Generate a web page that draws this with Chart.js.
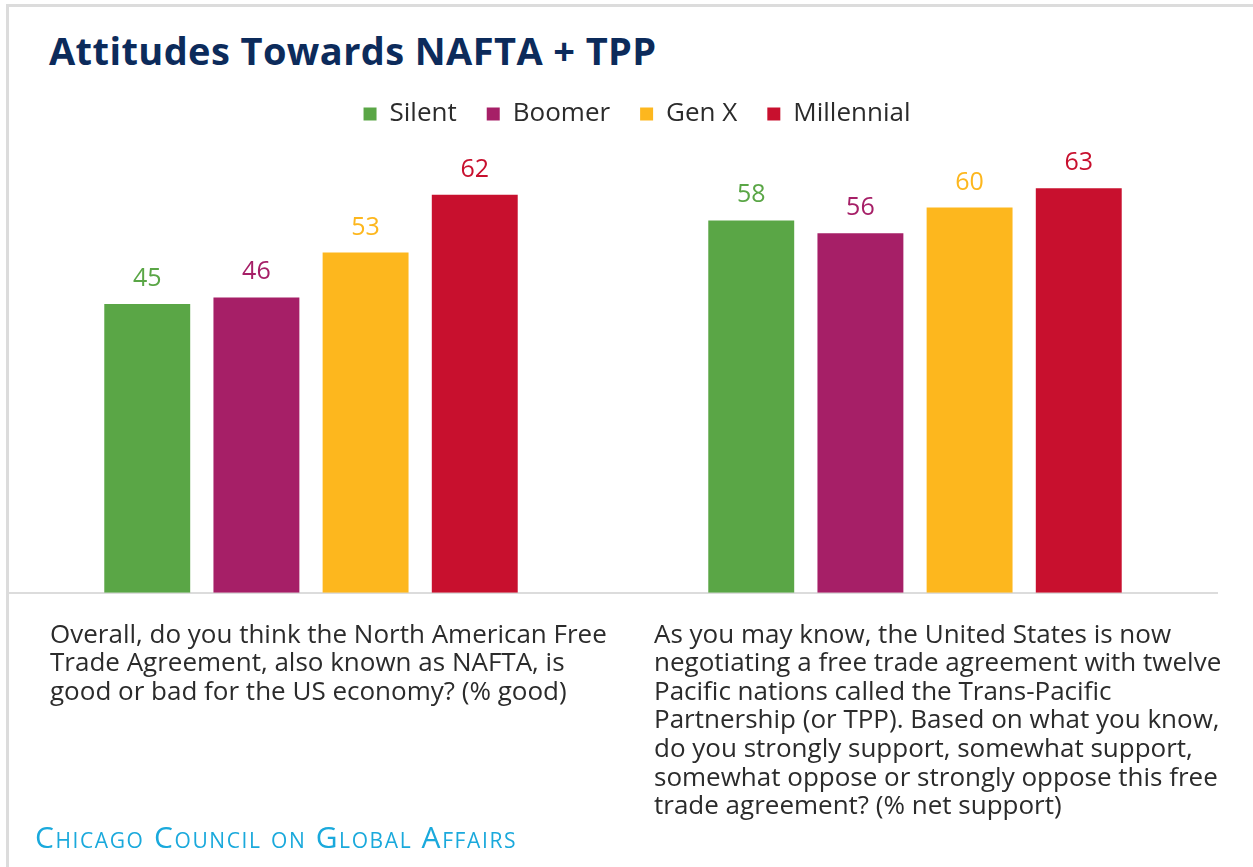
<!DOCTYPE html>
<html>
<head>
<meta charset="utf-8">
<title>Attitudes Towards NAFTA + TPP</title>
<script src="https://cdn.jsdelivr.net/npm/chart.js@4.4.1/dist/chart.umd.min.js"></script>
<style>
  html, body { margin: 0; padding: 0; background: #fff; overflow: hidden; }
  body { width: 1253px; height: 867px; position: relative; font-family: "Open Sans", sans-serif; }
  .frame {
    position: absolute; left: 6px; top: 4px; width: 1260px; height: 900px;
    border-top: 3px solid #dcdcdc; border-left: 3px solid #dcdcdc;
  }
  h1 {
    position: absolute; left: 49px; top: 24px; margin: 0; line-height: 1;
    font: 700 38px "Open Sans", sans-serif; color: #0c2b5b; letter-spacing: 0.4px;
  }
  .chart-box { position: absolute; left: 0; top: 71px; width: 1265px; height: 778px; }
  .source {
    position: absolute; left: 35px; top: 816px; line-height: 1;
    font: 400 30px "Open Sans", sans-serif; font-variant: small-caps;
    color: #1aa9dc; letter-spacing: 1.6px;
  }
</style>
</head>
<body>
<div class="frame"></div>
<h1>Attitudes Towards NAFTA + TPP</h1>
<div class="chart-box"><canvas id="chartGenerations"></canvas></div>
<div class="source">Chicago Council on Global Affairs</div>

<script>
const questions = [
    [
        "Overall, do you think the North American Free",
        "Trade Agreement, also known as NAFTA, is",
        "good or bad for the US economy? (% good)",
    ],
    [
        "As you may know, the United States is now",
        "negotiating a free trade agreement with twelve",
        "Pacific nations called the Trans-Pacific",
        "Partnership (or TPP). Based on what you know,",
        "do you strongly support, somewhat support,",
        "somewhat oppose or strongly oppose this free",
        "trade agreement? (% net support)",
    ],
];

const generations = ["Silent", "Boomer", "Gen X", "Millennial"];
const silent = [45, 58];
const boomer = [46, 56];
const genX = [53, 60];
const millennial = [62, 63];

const colors = ["#5aa646", "#a61f67", "#fdb71e", "#c8102e"];

// numbers above each bar, in the bar's colour
const barValues = {
    id: "barValues",
    afterDatasetsDraw(chart) {
        const ctx = chart.ctx;
        ctx.save();
        ctx.font = "400 25px 'Open Sans', sans-serif";
        ctx.textAlign = "center";
        ctx.textBaseline = "alphabetic";
        chart.data.datasets.forEach((ds, i) => {
            chart.getDatasetMeta(i).data.forEach((bar, j) => {
                ctx.fillStyle = ds.backgroundColor;
                ctx.fillText(ds.data[j], bar.x, bar.y - 18);
            });
        });
        ctx.restore();
    },
};

document.addEventListener("DOMContentLoaded", function () {
    const seriesValues = [silent, boomer, genX, millennial];

    const data = {
        labels: questions,
        datasets: generations.map((name, i) => ({
            label: name,
            data: seriesValues[i],
            backgroundColor: colors[i],
            categoryPercentage: 0.723,
            barPercentage: 0.787,
        })),
    };

    const config = {
        type: "bar",
        data: data,
        options: {
            responsive: true,
            maintainAspectRatio: false,
            animation: false,
            layout: {
                padding: { left: 9, right: 0, top: 0, bottom: 0 },
            },
            plugins: {
                legend: {
                    position: "top",
                    labels: {
                        boxWidth: 13,
                        boxHeight: 13,
                        padding: 30,
                        color: "#2b2b2b",
                        font: { family: "'Open Sans', sans-serif", size: 26 },
                    },
                },
                tooltip: { enabled: false },
            },
            scales: {
                x: {
                    grid: { display: false, drawTicks: false },
                    border: { display: true, color: "#dcdcdc", width: 2 },
                    ticks: {
                        align: "start",
                        labelOffset: -261,
                        padding: 28,
                        color: "#2b2b2b",
                        font: { family: "'Open Sans', sans-serif", size: 26, lineHeight: 1.1 },
                        maxRotation: 0,
                        autoSkip: false,
                    },
                    // the question texts run under the bars, so they need no side room
                    afterFit: (scale) => {
                        scale.paddingLeft = 0;
                        scale.paddingRight = 0;
                    },
                },
                y: {
                    position: "right",
                    min: 0,
                    max: 71,
                    grid: { display: false },
                    border: { display: false },
                    ticks: { display: false },
                    afterFit: (scale) => {
                        scale.width = 48;
                    },
                },
            },
        },
        plugins: [barValues],
    };

    const chartElement = document.getElementById("chartGenerations");

    if (chartElement) {
        new Chart(chartElement, config);
    }
});
</script>
</body>
</html>
